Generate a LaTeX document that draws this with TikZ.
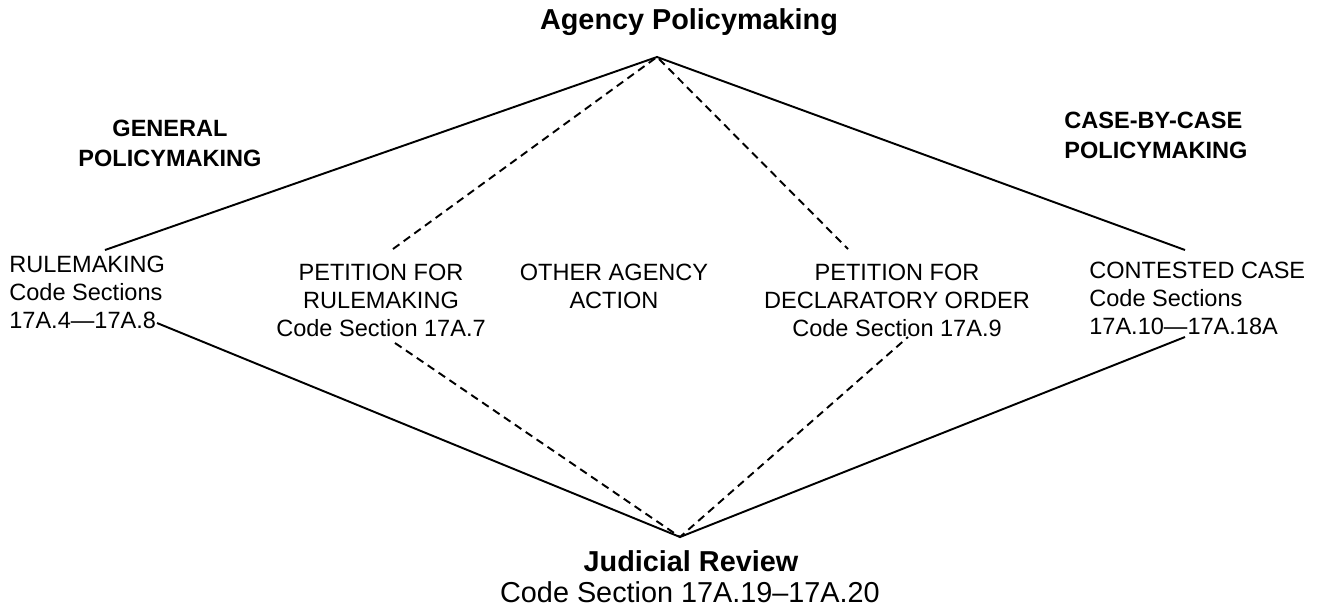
\documentclass[tikz,border=0pt]{standalone}
\usepackage{fontspec}
\setmainfont{Liberation Sans}
\begin{document}
\begin{tikzpicture}[x=0.02cm,y=-0.02cm,
  txt/.style={inner sep=0pt,font=\fontsize{13.4}{15.9}\selectfont},
  head/.style={inner sep=0pt,font=\fontsize{13.4}{17}\selectfont\bfseries},
  big/.style={inner sep=0pt,font=\fontsize{16.4}{19}\selectfont\bfseries},
  bigtxt/.style={inner sep=0pt,font=\fontsize{16.4}{19}\selectfont},
  solidln/.style={line width=1.1pt},
  dashln/.style={line width=1.1pt,dash pattern=on 4.5pt off 3pt}]
\useasboundingbox (0,0) rectangle (1320,609);
\node[big] (title) at (689,22) {Agency Policymaking};
\node[head,align=center] (gen) at (170,143) {GENERAL\\POLICYMAKING};
\node[head,anchor=west,align=left] (cbc) at (1064,135) {CASE-BY-CASE\\POLICYMAKING};
\node[txt,anchor=west,align=left] (rule) at (9,292) {RULEMAKING\\Code Sections\\17A.4---17A.8};
\node[txt,align=center] (pfr) at (381,300) {PETITION FOR\\RULEMAKING\\Code Section 17A.7};
\node[txt,align=center] (oaa) at (614,286) {OTHER AGENCY\\ACTION};
\node[txt,align=center] (pdo) at (897,300) {PETITION FOR\\DECLARATORY ORDER\\Code Section 17A.9};
\node[txt,anchor=west,align=left] (cc) at (1089,298) {CONTESTED CASE\\Code Sections\\17A.10---17A.18A};
\node[big] (jr) at (691,561) {Judicial Review};
\node[bigtxt] (jrc) at (690,592) {Code Section 17A.19--17A.20};
\coordinate (top) at (657,57);
\coordinate (bot) at (680,537);
\coordinate (t1) at (105,250);
\coordinate (t2) at (393,249);
\coordinate (t3) at (848,249);
\coordinate (t4) at (1185,250);
\coordinate (b1) at (157,323);
\coordinate (b2) at (395,343);
\coordinate (b3) at (908,337);
\coordinate (b4) at (1185,337);
\draw[solidln] (t1) -- (top) -- (t4);
\draw[dashln] (t2) -- (top) -- (t3);
\draw[solidln] (b1) -- (bot) -- (b4);
\draw[dashln] (b2) -- (bot) -- (b3);
\end{tikzpicture}
\end{document}
